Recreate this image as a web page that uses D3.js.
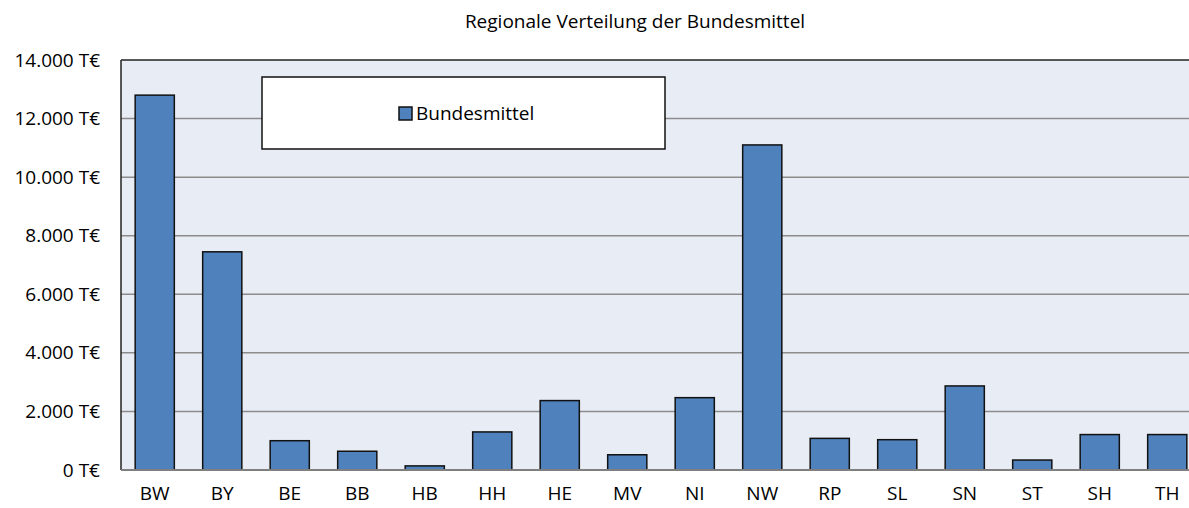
<!DOCTYPE html>
<html>
<head>
<meta charset="utf-8">
<script src="https://cdn.jsdelivr.net/npm/d3@7"></script>
<style>
  body { margin: 0; background: #fff; }
  svg { display: block; font-family: "Open Sans", "Liberation Sans", sans-serif; }
</style>
</head>
<body>
<svg width="1189" height="508"></svg>
<script>
const categories = ["BW", "BY", "BE", "BB", "HB", "HH", "HE", "MV", "NI", "NW", "RP", "SL", "SN", "ST", "SH", "TH"];
const values = [12800, 7450, 1000, 640, 140, 1300, 2370, 520, 2470, 11100, 1080, 1035, 2870, 340, 1210, 1210];
const yTicks = [0, 2000, 4000, 6000, 8000, 10000, 12000, 14000];
const seriesName = "Bundesmittel";
const title = "Regionale Verteilung der Bundesmittel";

const svg = d3.select("svg");
const plot = { left: 121, top: 60, right: 1201, bottom: 470 };
const fmt = d3.format(",");
const fontSize = 19;

const x = d3.scaleBand()
  .domain(categories)
  .range([plot.left, plot.right])
  .paddingInner(0.42)
  .paddingOuter(0.21);

const y = d3.scaleLinear()
  .domain([0, 14000])
  .range([plot.bottom, plot.top]);

// plot background
svg.append("rect")
  .attr("x", plot.left)
  .attr("y", plot.top)
  .attr("width", plot.right - plot.left)
  .attr("height", plot.bottom - plot.top)
  .attr("fill", "#e8ecf4");

// gridlines
svg.append("g")
  .selectAll("line")
  .data(yTicks.filter(d => d > 0 && d < 14000))
  .join("line")
  .attr("x1", plot.left)
  .attr("x2", plot.right)
  .attr("y1", d => y(d))
  .attr("y2", d => y(d))
  .attr("stroke", "#8c8c8c")
  .attr("stroke-width", 1.5);

// bars
svg.append("g")
  .selectAll("rect")
  .data(values)
  .join("rect")
  .attr("x", (d, i) => x(categories[i]))
  .attr("y", d => y(d))
  .attr("width", x.bandwidth())
  .attr("height", d => y(0) - y(d))
  .attr("fill", "#4f81bd")
  .attr("stroke", "#111")
  .attr("stroke-width", 1.5);

// borders
svg.append("line")
  .attr("x1", plot.left).attr("x2", plot.right)
  .attr("y1", plot.top).attr("y2", plot.top)
  .attr("stroke", "#222").attr("stroke-width", 1.5);
svg.append("line")
  .attr("x1", plot.left).attr("x2", plot.left)
  .attr("y1", plot.top).attr("y2", plot.bottom)
  .attr("stroke", "#222").attr("stroke-width", 1.5);
svg.append("line")
  .attr("x1", plot.left).attr("x2", plot.right)
  .attr("y1", plot.bottom).attr("y2", plot.bottom)
  .attr("stroke", "#7f7f7f").attr("stroke-width", 2);

// y axis labels
const yAxis = d3.axisLeft(y)
  .tickValues(yTicks)
  .tickSize(0)
  .tickPadding(21)
  .tickFormat(d => fmt(d).replace(/,/g, ".") + " T€");
const gy = svg.append("g")
  .attr("transform", `translate(${plot.left},0)`)
  .call(yAxis);
gy.select(".domain").remove();
gy.selectAll("text")
  .attr("font-size", fontSize)
  .attr("font-family", "Open Sans, Liberation Sans, sans-serif")
  .attr("fill", "#000");

// x axis labels
const xAxis = d3.axisBottom(x).tickSize(0).tickPadding(17);
const gx = svg.append("g")
  .attr("transform", `translate(0,${plot.bottom})`)
  .call(xAxis);
gx.select(".domain").remove();
gx.selectAll("text")
  .attr("font-size", fontSize)
  .attr("font-family", "Open Sans, Liberation Sans, sans-serif")
  .attr("fill", "#000");

// title
svg.append("text")
  .attr("x", 635)
  .attr("y", 28)
  .attr("text-anchor", "middle")
  .attr("font-size", fontSize)
  .attr("fill", "#000")
  .text(title);

// legend
const lg = svg.append("g");
lg.append("rect")
  .attr("x", 262).attr("y", 77)
  .attr("width", 403).attr("height", 72)
  .attr("fill", "#fff")
  .attr("stroke", "#111")
  .attr("stroke-width", 1.5);
lg.append("rect")
  .attr("x", 399).attr("y", 107)
  .attr("width", 13).attr("height", 13)
  .attr("fill", "#4f81bd")
  .attr("stroke", "#111")
  .attr("stroke-width", 1.5);
lg.append("text")
  .attr("x", 416).attr("y", 120)
  .attr("font-size", fontSize)
  .attr("fill", "#000")
  .text(seriesName);
</script>
</body>
</html>
